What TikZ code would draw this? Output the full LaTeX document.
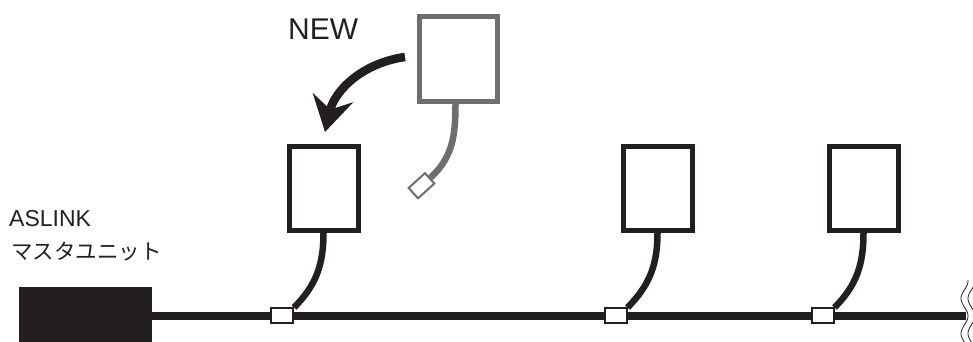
\documentclass[tikz,border=0pt]{standalone}
\usepackage{fontspec}
\setmainfont{Liberation Sans}
\newfontfamily\jpfont{Noto Sans CJK JP}
\usepackage{tikz}
\usetikzlibrary{arrows.meta}
\definecolor{ink}{HTML}{231F20}
\definecolor{old}{HTML}{6D6E71}

\begin{document}
\begin{tikzpicture}[x=1pt,y=1pt,
  unit/.style={draw=ink,line width=5pt,minimum width=69pt,minimum height=84pt,inner sep=0pt},
  tap/.style={draw=ink,fill=white,line width=2pt,minimum width=22pt,minimum height=15pt,inner sep=0pt},
  cable/.style={draw=ink,line width=6.5pt},
  lbl/.style={anchor=base west,inner sep=0pt,text=ink}]
\useasboundingbox (0,0) rectangle (973,342);
\node (new) at (288,302.7) [lbl,font=\fontsize{30}{34}\selectfont] {NEW};
\node (asl) at (9,115) [lbl,font=\fontsize{23}{27}\selectfont] {ASLINK};
\node (mst) at (11,82) [lbl,font=\jpfont\fontsize{21.5}{26}\selectfont] {マスタユニット};
  \node (ms) at (85.5,26) [fill=ink,minimum width=133pt,minimum height=58pt,inner sep=0pt] {};
  \coordinate (brk) at (966,26);
  \draw [ink,line width=7.5pt] (ms.east) -- (brk);
  \node (j1) at (282,26) [tap] {};
  \node (j2) at (615.5,26) [tap] {};
  \node (j3) at (822.5,26) [tap] {};
  \node (u1) at (323.5,153.5) [unit] {};
  \node (u2) at (657.5,153.5) [unit] {};
  \node (u3) at (863.5,153.5) [unit] {};
  \draw [cable] (u1.south) to[out=-90,in=45] (j1.north east);
  \draw [cable] (u2.south) to[out=-90,in=45] (j2.north east);
  \draw [cable] (u3.south) to[out=-90,in=45] (j3.north east);
  \node (nw) at (458.5,283) [unit,draw=old,minimum width=78pt,minimum height=85pt] {};
  \node (cn) at (421.5,156.25) [tap,draw=old,minimum width=22pt,minimum height=14pt,rotate=42] {};
  \draw [old,line width=6.5pt] ([xshift=-3pt]nw.south) to[out=-90,in=42] (cn.east);
  \coordinate (from) at (405,285);
  \coordinate (to) at (325,210);
  \draw [ink,line width=8.5pt,-{Stealth[length=35pt,width=41pt,inset=12pt]}] (from) to[out=188,in=77] (to);
  \draw [ink,line width=0.8pt] plot[domain=0:62,samples=60,smooth,variable=\t] ({964.5+3.5*cos(360*(\t-26)/35)},\t);
  \draw [ink,line width=0.8pt] plot[domain=0:62,samples=60,smooth,variable=\t] ({971.5+3.5*cos(360*(\t-26)/35)},\t);
\end{tikzpicture}
\end{document}
